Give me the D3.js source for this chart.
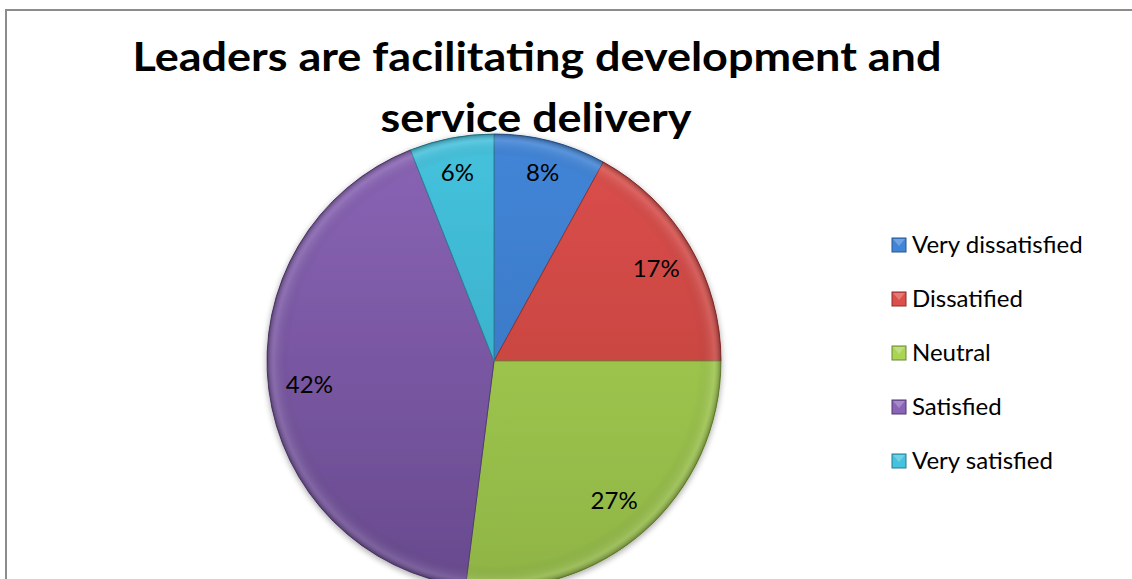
<!DOCTYPE html>
<html>
<head>
<meta charset="utf-8">
<script src="https://cdn.jsdelivr.net/npm/d3@7/dist/d3.min.js"></script>
<style>
  html, body { margin: 0; padding: 0; background: #fff; }
  svg { display: block; }
</style>
</head>
<body>
<svg id="chart" width="1132" height="579"></svg>
<script>
const categories = ["Very dissatisfied", "Dissatified", "Neutral", "Satisfied", "Very satisfied"];
const values = [8, 17, 27, 42, 6];
const labels = ["8%", "17%", "27%", "42%", "6%"];
const colorsTop = ["#4285d8", "#dc4f4b", "#a9d454", "#8a64b6", "#45c2dd"];
const colorsBottom = ["#3670b8", "#b83d3a", "#8fb445", "#684a8e", "#33a3bd"];

const svg = d3.select("#chart");
const W = 1132, H = 579;
const font = "Lato, 'Open Sans', 'Noto Sans', sans-serif";

// outer frame
svg.append("rect")
  .attr("x", 6).attr("y", 10).attr("width", W).attr("height", H)
  .attr("fill", "#fff").attr("stroke", "#8c8c8c").attr("stroke-width", 2);

// title
const title = svg.append("text")
  .attr("text-anchor", "middle")
  .attr("font-family", font)
  .attr("font-weight", "bold")
  .attr("font-size", 41)
  .attr("fill", "#000");
title.append("tspan").attr("x", 537).attr("y", 71)
  .attr("textLength", 809).attr("lengthAdjust", "spacingAndGlyphs")
  .text("Leaders are facilitating development and");
title.append("tspan").attr("x", 536).attr("y", 132)
  .attr("textLength", 311).attr("lengthAdjust", "spacingAndGlyphs")
  .text("service delivery");

const cx = 494, cy = 361, R = 227;
const defs = svg.append("defs");

categories.forEach((c, i) => {
  const g = defs.append("linearGradient")
    .attr("id", "grad" + i)
    .attr("gradientUnits", "userSpaceOnUse")
    .attr("x1", 0).attr("y1", -R).attr("x2", 0).attr("y2", R);
  g.append("stop").attr("offset", "0%").attr("stop-color", colorsTop[i]);
  g.append("stop").attr("offset", "100%").attr("stop-color", colorsBottom[i]);
});

// rim shading to suggest a bevel
const rim = defs.append("radialGradient")
  .attr("id", "rim")
  .attr("gradientUnits", "userSpaceOnUse")
  .attr("cx", 0).attr("cy", 0).attr("r", R);
rim.append("stop").attr("offset", "90%").attr("stop-color", "#000").attr("stop-opacity", 0);
rim.append("stop").attr("offset", "97%").attr("stop-color", "#fff").attr("stop-opacity", 0.12);
rim.append("stop").attr("offset", "100%").attr("stop-color", "#000").attr("stop-opacity", 0.3);

const shadow = defs.append("filter").attr("id", "shadow")
  .attr("x", "-10%").attr("y", "-10%").attr("width", "120%").attr("height", "120%");
shadow.append("feGaussianBlur").attr("in", "SourceAlpha").attr("stdDeviation", 3);
shadow.append("feOffset").attr("dx", 0).attr("dy", 2).attr("result", "b");
shadow.append("feComponentTransfer").append("feFuncA").attr("type", "linear").attr("slope", 0.35);
const merge = shadow.append("feMerge");
merge.append("feMergeNode");
merge.append("feMergeNode").attr("in", "SourceGraphic");

const pie = d3.pie().sort(null).value(d => d)(values);
const arc = d3.arc().innerRadius(0).outerRadius(R);

const pg = svg.append("g").attr("transform", `translate(${cx},${cy})`);

pg.append("g").attr("filter", "url(#shadow)")
  .selectAll("path").data(pie).join("path")
  .attr("d", arc)
  .attr("fill", (d, i) => `url(#grad${i})`)
  .attr("stroke", (d, i) => d3.color(colorsBottom[i]).darker(0.6))
  .attr("stroke-width", 1);

pg.append("g").selectAll("path").data(pie).join("path")
  .attr("d", arc)
  .attr("fill", "url(#rim)");

// percentage labels
const labelRadius = [0.86, 0.83, 0.80, 0.82, 0.86];
const labelDy = [9, 12, 12, 9, 12];
pg.append("g").selectAll("text").data(pie).join("text")
  .attr("transform", (d, i) => {
    const a = (d.startAngle + d.endAngle) / 2;
    const r = R * labelRadius[i];
    return `translate(${r * Math.sin(a)},${-r * Math.cos(a) + labelDy[i]})`;
  })
  .attr("text-anchor", "middle")
  .attr("font-family", font)
  .attr("font-size", 24)
  .attr("fill", "#000")
  .text((d, i) => labels[i]);

// legend
const leg = svg.append("g").attr("transform", "translate(892,245)");
const rows = leg.selectAll("g").data(categories).join("g")
  .attr("transform", (d, i) => `translate(0,${i * 54})`);
rows.append("rect")
  .attr("x", 0).attr("y", -7).attr("width", 14).attr("height", 14)
  .attr("fill", (d, i) => colorsTop[i])
  .attr("stroke", (d, i) => d3.color(colorsBottom[i]).darker(0.8))
  .attr("stroke-width", 1);
rows.append("path")
  .attr("d", "M1,-6 L7,1 L13,-6 Z")
  .attr("fill", "#fff").attr("opacity", 0.25);
rows.append("text")
  .attr("x", 20).attr("y", 8)
  .attr("font-family", font)
  .attr("font-size", 24)
  .attr("fill", "#000")
  .text(d => d);
</script>
</body>
</html>
